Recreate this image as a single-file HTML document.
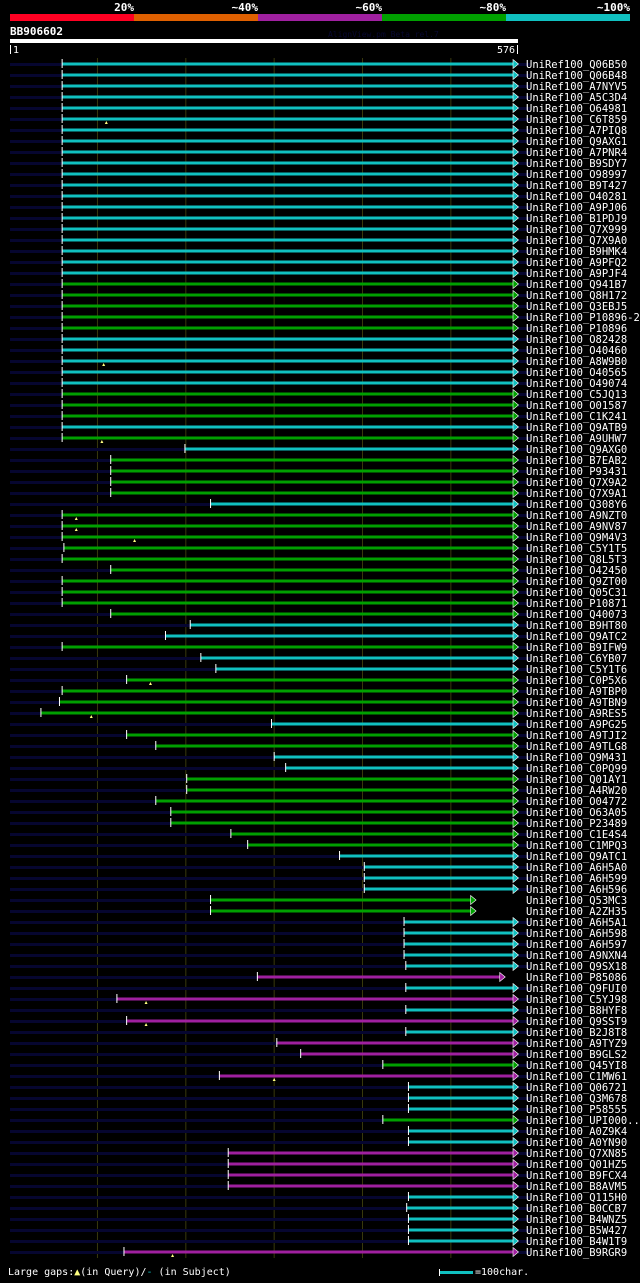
<!DOCTYPE html>
<html><head><meta charset="utf-8"><style>
html,body{margin:0;padding:0;background:#000;}
body{width:640px;height:1279px;overflow:hidden;font-family:"DejaVu Sans Mono","Liberation Mono",monospace;}
svg text{font-family:"DejaVu Sans Mono","Liberation Mono",monospace;}
</style></head><body>
<svg id="chart" width="640" height="1279" xmlns="http://www.w3.org/2000/svg">
<rect x="0" y="0" width="640" height="1279" fill="#000"/>
<g>
<rect x="10" y="14" width="124" height="7" fill="#ff0022"/>
<rect x="134" y="14" width="124" height="7" fill="#e06000"/>
<rect x="258" y="14" width="124" height="7" fill="#a020a0"/>
<rect x="382" y="14" width="124" height="7" fill="#00a000"/>
<rect x="506" y="14" width="124" height="7" fill="#10c0c0"/>
<text x="134" y="11" fill="#fff" font-size="11" font-weight="bold" text-anchor="end">20%</text>
<text x="258" y="11" fill="#fff" font-size="11" font-weight="bold" text-anchor="end">~40%</text>
<text x="382" y="11" fill="#fff" font-size="11" font-weight="bold" text-anchor="end">~60%</text>
<text x="506" y="11" fill="#fff" font-size="11" font-weight="bold" text-anchor="end">~80%</text>
<text x="630" y="11" fill="#fff" font-size="11" font-weight="bold" text-anchor="end">~100%</text>
</g>
<text x="10" y="35" fill="#fff" font-size="11" font-weight="bold">BB906602</text>
<text x="328" y="37" fill="#080830" font-size="8">AlignView.pm Beta rel.7</text>
<rect x="10" y="39" width="508" height="4" fill="#fff"/>
<rect x="10" y="45" width="1" height="9" fill="#fff"/>
<text x="13" y="53" fill="#fff" font-size="10">1</text>
<rect x="517" y="45" width="1" height="9" fill="#fff"/>
<text x="515" y="53" fill="#fff" font-size="10" text-anchor="end">576</text>
<g id="grid"></g>
<g id="rows"></g>
<g>
<text x="8" y="1275" fill="#fff" font-size="10">Large gaps:<tspan fill="#ffff80">▲</tspan>(in Query)/<tspan fill="#10c0c0">-</tspan> (in Subject)</text>
<rect x="439" y="1269" width="1" height="7" fill="#fff"/>
<rect x="440" y="1271" width="33" height="3" fill="#10c0c0"/>
<text x="475" y="1275" fill="#fff" font-size="10">=100char.</text>
</g>
</svg>
<script>
const QLEN = 576;
const names = ["Q06B50","Q06B48","A7NYV5","A5C3D4","O64981","C6T859","A7PIQ8","Q9AXG1","A7PNR4","B9SDY7","O98997","B9T427","O40281","A9PJ06","B1PDJ9","Q7X999","Q7X9A0","B9HMK4","A9PFQ2","A9PJF4","Q941B7","Q8H172","Q3EBJ5","P10896-2","P10896","O82428","O40460","A8W9B0","O40565","O49074","C5JQ13","O01587","C1K241","Q9ATB9","A9UHW7","Q9AXG0","B7EAB2","P93431","Q7X9A2","Q7X9A1","Q308Y6","A9NZT0","A9NV87","Q9M4V3","C5Y1T5","Q8L5T3","O42450","Q9ZT00","Q05C31","P10871","Q40073","B9HT80","Q9ATC2","B9IFW9","C6YB07","C5Y1T6","C0P5X6","A9TBP0","A9TBN9","A9RES5","A9PG25","A9TJI2","A9TLG8","Q9M431","C0PQ99","Q01AY1","A4RW20","O04772","O63A05","P23489","C1E4S4","C1MPQ3","Q9ATC1","A6H5A0","A6H599","A6H596","Q53MC3","A2ZH35","A6H5A1","A6H598","A6H597","A9NXN4","Q9SX18","P85086","Q9FUI0","C5YJ98","B8HYF8","Q9SST9","B2J8T8","A9TYZ9","B9GLS2","Q45YI8","C1MW61","Q06721","Q3M678","P58555","UPI000..","A0Z9K4","A0YN90","Q7XN85","Q01HZ5","B9FCX4","B8AVM5","Q115H0","B0CCB7","B4WNZ5","B5W427","B4W1T9","B9RGR9"];
const starts = [60,60,60,60,60,60,60,60,60,60,60,60,60,60,60,60,60,60,60,60,60,60,60,60,60,60,60,60,60,60,60,60,60,60,60,199,115,115,115,115,228,60,60,60,62,60,115,60,60,60,115,205,177,60,217,234,133,60,57,36,297,133,166,300,313,201,201,166,183,183,251,270,374,402,402,402,228,228,447,447,447,447,449,281,449,122,449,133,449,303,330,423,238,452,452,452,423,452,452,248,248,248,248,452,450,452,452,452,130];
const ends = [576,576,576,576,576,576,576,576,576,576,576,576,576,576,576,576,576,576,576,576,576,576,576,576,576,576,576,576,576,576,576,576,576,576,576,576,576,576,576,576,576,576,576,576,576,576,576,576,576,576,576,576,576,576,576,576,576,576,576,576,576,576,576,576,576,576,576,576,576,576,576,576,576,576,576,576,528,528,576,576,576,576,576,561,576,576,576,576,576,576,576,576,576,576,576,576,576,576,576,576,576,576,576,576,576,576,576,576,576];
// identity class: 1=purple(~60%), 2=green(~80%), 3=cyan(~100%)
const identity = [3,3,3,3,3,3,3,3,3,3,3,3,3,3,3,3,3,3,3,3,2,2,2,2,2,3,3,3,3,3,2,2,2,3,2,3,2,2,2,2,3,2,2,2,2,2,2,2,2,2,2,3,3,2,3,3,2,2,2,2,3,2,2,3,3,2,2,2,2,2,2,2,3,3,3,3,2,2,3,3,3,3,3,1,3,1,3,1,3,1,1,2,1,3,3,3,2,3,3,1,1,1,1,3,3,3,3,3,1];
const gapPos = [null,null,null,null,null,110,null,null,null,null,null,null,null,null,null,null,null,null,null,null,null,null,null,null,null,null,null,107,null,null,null,null,null,null,105,null,null,null,null,null,null,76,76,142,null,null,null,null,null,null,null,null,null,null,null,null,160,null,null,93,null,null,null,null,null,null,null,null,null,null,null,null,null,null,null,null,null,null,null,null,null,null,null,null,null,155,null,155,null,null,null,null,300,null,null,null,null,null,null,null,null,null,null,null,null,null,null,null,185];
const colors = {1:"#a020a0",2:"#00a000",3:"#10c0c0"};
const X0 = 10, X1 = 518, Y0 = 64, PITCH = 11;
function xs(p){ return X0 + (p-1)/(QLEN-1)*(X1-X0); }
function ys(i){ return Y0 + i*PITCH; }
const NS = "http://www.w3.org/2000/svg";
function mk(tag, attrs, parent){ const e=document.createElementNS(NS,tag); for(const k in attrs) e.setAttribute(k,attrs[k]); parent.appendChild(e); return e; }
const grid = document.getElementById('grid');
[100,200,300,400,500].forEach(function(p){
  const l = mk('rect',{x:xs(p)-0.5,y:58,width:1,height:1200,fill:"#38380c"},grid);
  
  
});
const rows = document.getElementById('rows');
names.forEach(function(n,i){
  const y = ys(i);
  const g = mk('g',{},rows);
  
  
  const c = colors[identity[i]];
  const sx = xs(starts[i]), ex = xs(ends[i]);
  const bg = mk('rect',{x:X0,y:y-1,width:sx-X0,height:3,fill:"#060630"},g);
  
  
  if (ends[i] >= QLEN) {
    const bg2 = mk('rect',{x:X1,y:y-1,width:12,height:3,fill:"#060630"},g);
    
    
  }
  const bar = mk('rect',{x:sx,y:y-1.5,width:ex-sx-4,height:3,fill:c},g);
  
  
  const tk = mk('rect',{x:sx-0.5,y:y-5,width:1,height:9,fill:"#fff"},g);
  
  
  const ar = mk('path',{d:"M"+(ex-5)+" "+(y-4.5)+" L"+(ex+0.5)+" "+y+" L"+(ex-5)+" "+(y+4.5)+" Z",fill:c,stroke:"#fff","stroke-width":0.6},g);
  
  
  if (gapPos[i] !== null) {
    const gx = xs(gapPos[i]);
    const tr = mk('path',{d:"M"+(gx-1.5)+" "+(y+5)+" L"+gx+" "+(y+2)+" L"+(gx+1.5)+" "+(y+5)+" Z",fill:"#ffff80"},g);
    
    
  }
  const t = mk('text',{x:526,y:y+4,fill:"#fff","font-size":"10.5"},g);
  t.textContent = "UniRef100_" + n;
  
  
});
</script>
</body></html>
